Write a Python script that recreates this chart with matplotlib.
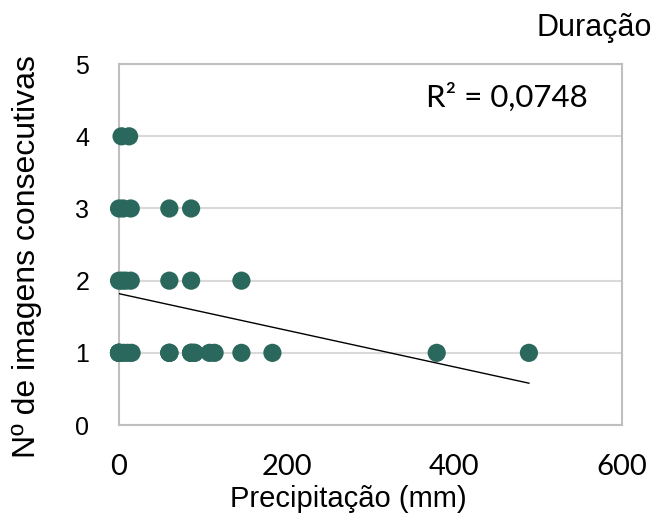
import numpy as np
import matplotlib.pyplot as plt

# precipitação (mm) e número de imagens consecutivas
precip_4 = [3, 12]
precip_3 = [0, 5, 14, 60, 86]
precip_2 = [0, 4, 8, 14, 60, 86, 146]
precip_1 = [0, 0, 0, 0, 0, 5, 10, 15, 60, 60, 60, 86, 86, 86, 90, 90,
            108, 114, 146, 183, 379, 489]

x = np.array(precip_4 + precip_3 + precip_2 + precip_1, dtype=float)
y = np.array([4] * len(precip_4) + [3] * len(precip_3)
             + [2] * len(precip_2) + [1] * len(precip_1), dtype=float)

r2_label = 'R² = 0,0748'
cor = '#2A685E'

fig = plt.figure(figsize=(6.54, 5.13), dpi=100)
ax = fig.add_axes([0.182, 0.1715, 0.769, 0.7035])

ax.scatter(x, y, s=172, color=cor, edgecolors='none', zorder=3, clip_on=False)

# linha de tendência linear
b, a = np.polyfit(x, y, 1)
xt = np.array([x.min(), x.max()])
ax.plot(xt, a + b * xt, color='black', lw=1.0, zorder=4)

ax.set_xlim(0, 600)
ax.set_ylim(0, 5)
ax.set_xticks([0, 200, 400, 600])
ax.set_yticks([0, 1, 2, 3, 4, 5])
ax.grid(axis='y', color='#D9D9D9', lw=1.5, zorder=0)
ax.set_axisbelow(True)
for sp in ax.spines.values():
    sp.set_color('#BFBFBF')
    sp.set_linewidth(1.5)
ax.tick_params(length=0)
ax.tick_params(axis='x', pad=21, labelsize=21)
ax.tick_params(axis='y', pad=21.5, labelsize=18)
for lab in ax.get_xticklabels():
    lab.set_family('Lato')
for lab in ax.get_yticklabels():
    lab.set_family('Liberation Sans')

ax.set_xlabel('Precipitação (mm)', family='Liberation Sans', fontsize=21)
ax.xaxis.set_label_coords(0.455, -0.165)
ax.set_ylabel('Nº de imagens consecutivas', family='Liberation Sans', fontsize=23)
ax.yaxis.set_label_coords(-0.153, 0.467)

ax.text(0.932, 0.881, r2_label, transform=ax.transAxes, ha='right', va='baseline',
        family='Lato', fontsize=22.5)
fig.text(0.997, 0.930, 'Duração', ha='right', va='baseline',
         family='Liberation Sans', fontsize=22)

fig.savefig('out.png', dpi=100)
